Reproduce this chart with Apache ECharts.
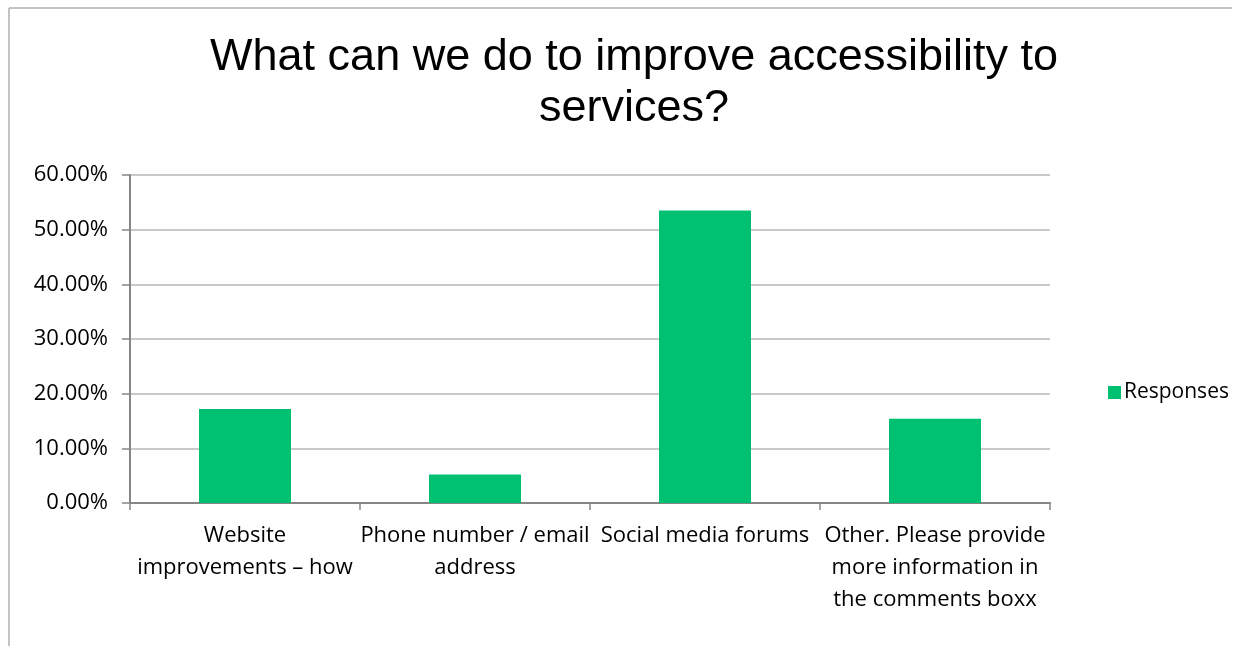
<!DOCTYPE html>
<html>
<head>
<meta charset="utf-8">
<script src="https://cdn.jsdelivr.net/npm/echarts@6/dist/echarts.min.js"></script>
<style>
  html, body { margin: 0; padding: 0; background: #fff; }
  #chart { width: 1238px; height: 646px; }
</style>
</head>
<body>
<div id="chart"></div>
<script>
// Survey answers: share of responses per option
const categories = [
  'Website\nimprovements \u2013 how',
  'Phone number / email\naddress',
  'Social media forums',
  'Other. Please provide\nmore information in\nthe comments boxx'
];
const responses = [17.2, 5.2, 53.5, 15.4];
const yTicks = [0, 10, 20, 30, 40, 50, 60];

const chart = echarts.init(document.getElementById('chart'), null, { renderer: 'canvas' });

const labelFont = '"Open Sans", Lato, sans-serif';

chart.setOption({
  backgroundColor: '#ffffff',
  animation: false,
  title: {
    text: 'What can we do to improve accessibility to\nservices?',
    left: 629,
    top: 27,
    textAlign: 'center',
    textStyle: {
      fontFamily: '"Liberation Sans", Arial, sans-serif',
      fontSize: 45,
      fontWeight: 'normal',
      color: '#000',
      lineHeight: 51
    }
  },
  legend: {
    data: ['Responses'],
    left: 1103,
    top: 377,
    icon: 'rect',
    itemWidth: 13,
    itemHeight: 13,
    itemGap: 6,
    textStyle: { fontFamily: labelFont, fontSize: 21, color: '#000', padding: [0, 0, 0, -2] }
  },
  grid: { left: 130, right: 188, top: 175, bottom: 143, containLabel: false },
  xAxis: {
    type: 'category',
    data: categories,
    axisLine: { lineStyle: { color: '#868686', width: 2 } },
    axisTick: { show: true, length: 7, lineStyle: { color: '#868686', width: 1.5 } },
    axisLabel: {
      interval: 0,
      margin: 17,
      fontFamily: labelFont,
      fontSize: 22,
      lineHeight: 32,
      color: '#000'
    }
  },
  yAxis: {
    type: 'value',
    min: yTicks[0],
    max: yTicks[yTicks.length - 1],
    interval: 10,
    axisLine: { show: true, lineStyle: { color: '#868686', width: 2 } },
    axisTick: { show: true, length: 8, lineStyle: { color: '#868686', width: 1.5 } },
    splitLine: { lineStyle: { color: '#b7b7b7', width: 1.5 } },
    axisLabel: {
      margin: 22,
      fontFamily: labelFont,
      fontSize: 22,
      color: '#000',
      formatter: v => v.toFixed(2) + '%'
    }
  },
  series: [{
    name: 'Responses',
    type: 'bar',
    data: responses,
    barWidth: '40%',
    itemStyle: { color: '#00c071' }
  }],
  graphic: [
    { type: 'line', shape: { x1: 9, y1: 8, x2: 1232, y2: 8 }, style: { stroke: '#b0b0b0', lineWidth: 1.5 } },
    { type: 'line', shape: { x1: 9, y1: 8, x2: 9, y2: 646 }, style: { stroke: '#b0b0b0', lineWidth: 1.5 } }
  ]
});
</script>
</body>
</html>
